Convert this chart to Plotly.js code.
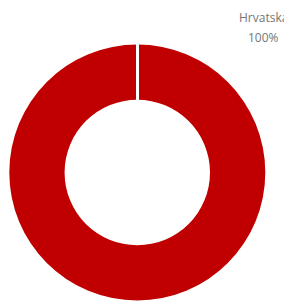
<!DOCTYPE html>
<html>
<head>
<meta charset="utf-8">
<script src="https://cdn.plot.ly/plotly-3.0.1.min.js"></script>
<style>html,body{margin:0;padding:0;background:#fff;}#chart{width:284px;height:301px;}</style>
</head>
<body>
<div id="chart"></div>
<script>
const categories = ["Hrvatska"];
const values = [100];
const sliceColors = ["#c00000"];

const total = values.reduce((a, b) => a + b, 0);
const pctLabels = values.map(v => Math.round(v / total * 100) + "%");

const W = 284, H = 301;
const cx = 137.3, cy = 172.5, R = 128, hole = 0.568;

const data = [{
  type: "pie",
  labels: categories,
  values: values,
  hole: hole,
  sort: false,
  direction: "clockwise",
  rotation: 0,
  textinfo: "none",
  hoverinfo: "label+percent",
  marker: {colors: sliceColors, line: {color: "#ffffff", width: 0}},
  domain: {x: [(cx - R) / W, (cx + R) / W], y: [(H - cy - R) / H, (H - cy + R) / H]},
  showlegend: false
}];

const layout = {
  width: W, height: H,
  margin: {l: 0, r: 0, t: 0, b: 0},
  paper_bgcolor: "#ffffff",
  plot_bgcolor: "#ffffff",
  showlegend: false,
  font: {family: "Open Sans, sans-serif", color: "#757575", size: 12},
  shapes: [{
    type: "line", xref: "paper", yref: "paper",
    x0: (cx + 0.2) / W, x1: (cx + 0.2) / W,
    y0: (H - cy + R + 2) / H, y1: (H - cy + R * hole - 2) / H,
    line: {color: "#ffffff", width: 3}
  }],
  annotations: [
    {xref: "paper", yref: "paper", x: 263 / W, y: (H - 17) / H, text: categories[0],
     showarrow: false, xanchor: "center", yanchor: "middle",
     font: {family: "Open Sans, sans-serif", size: 12, color: "#757575"}},
    {xref: "paper", yref: "paper", x: 263 / W, y: (H - 37) / H, text: pctLabels[0],
     showarrow: false, xanchor: "center", yanchor: "middle",
     font: {family: "Open Sans, sans-serif", size: 12, color: "#757575"}}
  ]
};

Plotly.newPlot("chart", data, layout, {displayModeBar: false, staticPlot: true});
</script>
</body>
</html>
